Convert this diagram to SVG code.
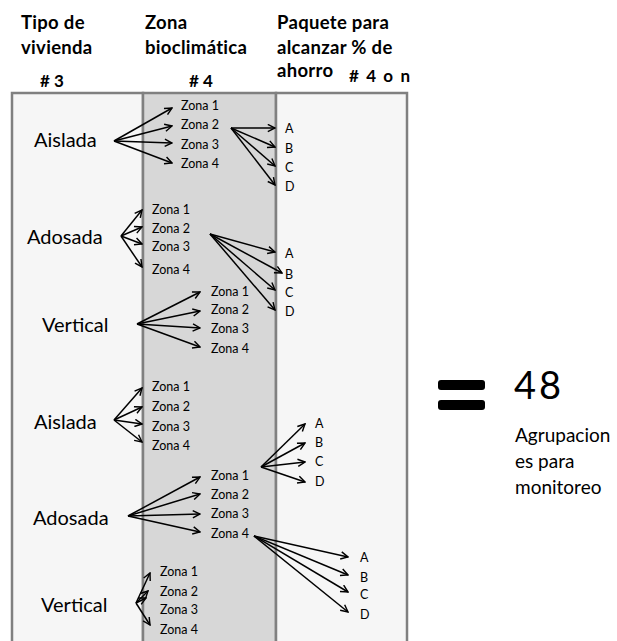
<svg xmlns="http://www.w3.org/2000/svg" width="617" height="641" viewBox="0 0 617 641">
<style>
text{font-family:Lato,"Liberation Sans",Arial,sans-serif;fill:#000}
.hdr{font-weight:bold;font-size:18.5px;letter-spacing:0.3px}
.num{font-weight:bold;font-size:17px}
.typ{font-size:20px}
.zn{font-size:12.5px}
.res{font-size:19px}
.col{stroke:#808080;stroke-width:2.5}
.arr line{stroke:#000;stroke-width:1.5;fill:none;marker-end:url(#ah)}
</style>
<defs>
<marker id="ah" viewBox="0 0 10 10" refX="9" refY="5" markerWidth="9" markerHeight="9" markerUnits="userSpaceOnUse" orient="auto">
<path d="M1,1 L9,5 L1,9" fill="none" stroke="#000" stroke-width="1.6"/>
</marker>
</defs>
<rect width="617" height="641" fill="#fff"/>
<g id="columns">
<rect class="col" x="12" y="93" width="131" height="560" fill="#f6f6f6"/>
<rect class="col" x="143" y="93" width="133" height="560" fill="#d7d7d7"/>
<rect class="col" x="276" y="93" width="131" height="560" fill="#f6f6f6"/>
</g>
<g id="headers">
<text class="hdr" x="21" y="29">Tipo de</text>
<text class="hdr" x="21" y="54">vivienda</text>
<text class="hdr" x="145" y="29">Zona</text>
<text class="hdr" x="145" y="54">bioclimática</text>
<text class="hdr" x="277" y="29">Paquete para</text>
<text class="hdr" x="277" y="54">alcanzar % de</text>
<text class="hdr" x="277" y="77">ahorro</text>
<text class="num" x="349" y="82" textLength="61" lengthAdjust="spacing"># 4 o n</text>
<text class="num" x="40" y="87"># 3</text>
<text class="num" x="189" y="87"># 4</text>
</g>
<g id="sec1">
<text class="typ" x="34" y="147">Aislada</text>
<text class="zn" x="181" y="110">Zona 1</text>
<text class="zn" x="181" y="129">Zona 2</text>
<text class="zn" x="181" y="149">Zona 3</text>
<text class="zn" x="181" y="168">Zona 4</text>
<text class="zn" x="285" y="133">A</text>
<text class="zn" x="285" y="153">B</text>
<text class="zn" x="285" y="172">C</text>
<text class="zn" x="285" y="191">D</text>
</g>
<g id="sec2">
<text class="typ" x="27" y="244">Adosada</text>
<text class="zn" x="152" y="214">Zona 1</text>
<text class="zn" x="152" y="233">Zona 2</text>
<text class="zn" x="152" y="251">Zona 3</text>
<text class="zn" x="152" y="274">Zona 4</text>
<text class="zn" x="285" y="258">A</text>
<text class="zn" x="285" y="279">B</text>
<text class="zn" x="285" y="297">C</text>
<text class="zn" x="285" y="316">D</text>
</g>
<g id="sec3">
<text class="typ" x="42" y="332">Vertical</text>
<text class="zn" x="211" y="296">Zona 1</text>
<text class="zn" x="211" y="314">Zona 2</text>
<text class="zn" x="211" y="333">Zona 3</text>
<text class="zn" x="211" y="353">Zona 4</text>
</g>
<g id="sec4">
<text class="typ" x="34" y="429">Aislada</text>
<text class="zn" x="152" y="391">Zona 1</text>
<text class="zn" x="152" y="411">Zona 2</text>
<text class="zn" x="152" y="431">Zona 3</text>
<text class="zn" x="152" y="450">Zona 4</text>
</g>
<g id="sec5">
<text class="typ" x="33" y="525">Adosada</text>
<text class="zn" x="211" y="480">Zona 1</text>
<text class="zn" x="211" y="499">Zona 2</text>
<text class="zn" x="211" y="518">Zona 3</text>
<text class="zn" x="211" y="538">Zona 4</text>
<text class="zn" x="315" y="428">A</text>
<text class="zn" x="315" y="447">B</text>
<text class="zn" x="315" y="466">C</text>
<text class="zn" x="315" y="486">D</text>
<text class="zn" x="360" y="562">A</text>
<text class="zn" x="360" y="582">B</text>
<text class="zn" x="360" y="599">C</text>
<text class="zn" x="360" y="619">D</text>
</g>
<g id="sec6">
<text class="typ" x="41" y="612">Vertical</text>
<text class="zn" x="160" y="576">Zona 1</text>
<text class="zn" x="160" y="596">Zona 2</text>
<text class="zn" x="160" y="614">Zona 3</text>
<text class="zn" x="160" y="634">Zona 4</text>
</g>
<g id="result">
<rect x="438" y="380" width="47" height="10" rx="3" fill="#000"/>
<rect x="438" y="400" width="47" height="10" rx="3" fill="#000"/>
<text x="514" y="399" font-size="38" letter-spacing="3">48</text>
<text class="res" x="515" y="442">Agrupacion</text>
<text class="res" x="515" y="468">es para</text>
<text class="res" x="515" y="494">monitoreo</text>
</g>
<g id="connectors" class="arr">
<line x1="114" y1="141" x2="172" y2="108"/>
<line x1="114" y1="141" x2="172" y2="126"/>
<line x1="114" y1="141" x2="172" y2="143"/>
<line x1="114" y1="141" x2="172" y2="163"/>
<line x1="231" y1="128" x2="275" y2="128"/>
<line x1="231" y1="128" x2="275" y2="147"/>
<line x1="231" y1="128" x2="275" y2="166"/>
<line x1="231" y1="128" x2="275" y2="185"/>
<line x1="121" y1="236" x2="142" y2="210"/>
<line x1="121" y1="236" x2="142" y2="227"/>
<line x1="121" y1="236" x2="142" y2="244"/>
<line x1="121" y1="236" x2="142" y2="267"/>
<line x1="210" y1="234" x2="275" y2="252"/>
<line x1="210" y1="234" x2="282" y2="273"/>
<line x1="210" y1="234" x2="275" y2="290"/>
<line x1="210" y1="234" x2="275" y2="310"/>
<line x1="137" y1="324" x2="200" y2="292"/>
<line x1="137" y1="324" x2="200" y2="311"/>
<line x1="137" y1="324" x2="200" y2="328"/>
<line x1="137" y1="324" x2="200" y2="347"/>
<line x1="114" y1="420" x2="142" y2="388"/>
<line x1="114" y1="420" x2="142" y2="407"/>
<line x1="114" y1="420" x2="142" y2="424"/>
<line x1="114" y1="420" x2="142" y2="442"/>
<line x1="128" y1="516" x2="200" y2="477"/>
<line x1="128" y1="516" x2="200" y2="494"/>
<line x1="128" y1="516" x2="200" y2="514"/>
<line x1="128" y1="516" x2="200" y2="532"/>
<line x1="261" y1="467" x2="305" y2="424"/>
<line x1="261" y1="467" x2="305" y2="443"/>
<line x1="261" y1="467" x2="305" y2="462"/>
<line x1="261" y1="467" x2="305" y2="482"/>
<line x1="254" y1="536" x2="348" y2="557"/>
<line x1="254" y1="536" x2="348" y2="575"/>
<line x1="254" y1="536" x2="348" y2="592"/>
<line x1="254" y1="536" x2="348" y2="612"/>
<line x1="136" y1="603" x2="150" y2="573"/>
<line x1="136" y1="603" x2="148" y2="591"/>
<line x1="136" y1="603" x2="146" y2="598"/>
<line x1="136" y1="603" x2="150" y2="625"/>
</g>
</svg>
